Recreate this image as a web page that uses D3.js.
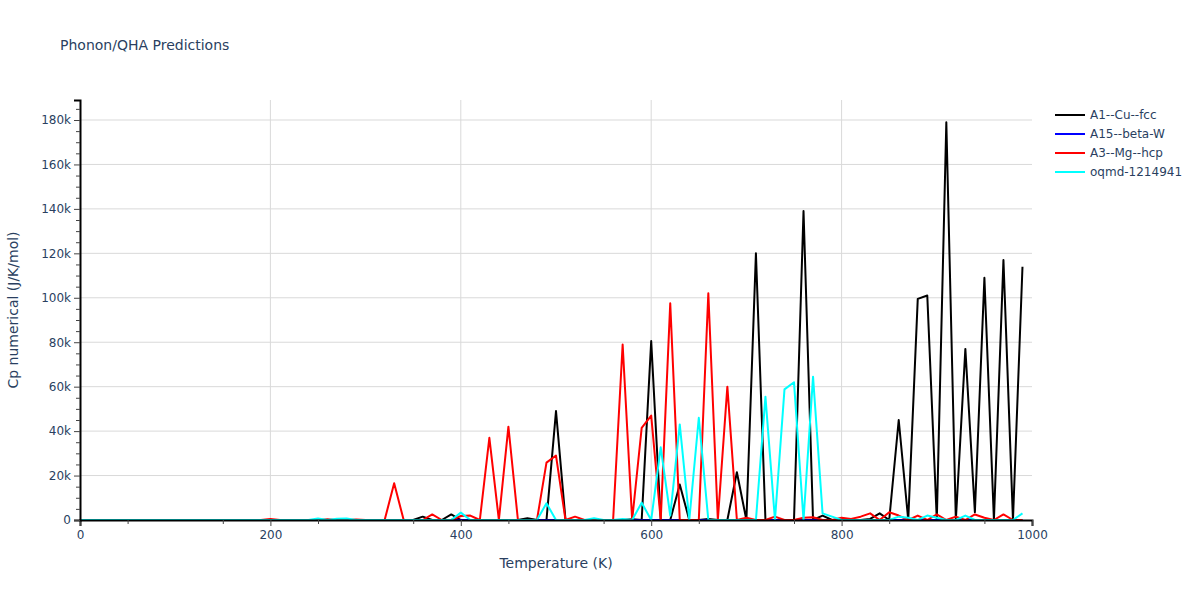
<!DOCTYPE html>
<html>
<head>
<meta charset="utf-8">
<script src="https://cdn.jsdelivr.net/npm/d3@7"></script>
<style>
  body { margin: 0; background: #fff; }
  svg { font-family: "DejaVu Sans", verdana, arial, sans-serif; }
</style>
</head>
<body>
<svg id="chart" width="1200" height="600"></svg>
<script>
// temperatures, 0 .. 990 K step 10
let temps = d3.range(0, 1000, 10);

// Cp numerical (J/K/mol) per temperature
let cuFcc = [
  0, 0, 0, 0, 0, 0, 0, 0, 0, 0,
  0, 0, 0, 0, 0, 0, 0, 0, 0, 0,
  0, 0, 0, 0, 0, 0, 0, 0, 0, 0,
  0, 0, 0, 0, 0, 0, 1500, 0, 0, 2500,
  0, 0, 0, 0, 0, 0, 0, 800, 0, 0,
  49000, 0, 0, 0, 0, 0, 0, 0, 300, 0,
  80500, 0, 0, 16000, 0, 0, 500, 0, 0, 21500,
  0, 120000, 0, 0, 0, 0, 139000, 0, 2000, 0,
  0, 0, 0, 500, 3000, 0, 45000, 0, 99500, 101000,
  0, 179000, 0, 77000, 3500, 109000, 0, 117000, 0, 114000
];

let betaW = temps.map(() => 0);

let mgHcp = [
  0, 0, 0, 0, 0, 0, 0, 0, 0, 0,
  0, 0, 0, 0, 0, 0, 0, 0, 0, 0,
  500, 0, 0, 0, 0, 0, 300, 0, 0, 200,
  0, 0, 0, 16500, 0, 0, 0, 2500, 0, 0,
  1800, 2000, 0, 37000, 0, 42000, 0, 0, 0, 25800,
  29000, 0, 1500, 0, 0, 0, 0, 79000, 0, 41500,
  47000, 0, 97500, 0, 0, 0, 102000, 0, 60000, 0,
  1000, 0, 0, 1500, 0, 0, 1000, 1200, 0, 0,
  1000, 500, 1500, 3000, 0, 3500, 2000, 0, 2000, 0,
  2500, 0, 1500, 0, 2500, 1000, 0, 2500, 0, 0
];

let oqmd = [
  0, 0, 0, 0, 0, 0, 0, 0, 0, 0,
  0, 0, 0, 0, 0, 0, 0, 0, 0, 0,
  0, 0, 0, 0, 0, 700, 0, 600, 700, 0,
  0, 0, 0, 0, 0, 0, 0, 0, 0, 0,
  3300, 0, 0, 0, 0, 0, 0, 0, 0, 7500,
  0, 0, 0, 0, 800, 0, 0, 500, 0, 7800,
  0, 32700, 2000, 43000, 0, 46000, 0, 0, 0, 0,
  0, 0, 55500, 0, 58800, 62000, 0, 64500, 3000, 1500,
  0, 0, 0, 0, 0, 0, 1500, 1000, 0, 2000,
  1000, 0, 0, 2000, 0, 0, 0, 0, 0, 3000
];

let seriesNames = ['A1--Cu--fcc', 'A15--beta-W', 'A3--Mg--hcp', 'oqmd-1214941'];
let seriesColors = ['black', 'blue', 'red', 'cyan'];
let seriesValues = [cuFcc, betaW, mgHcp, oqmd];

let xTicks = [0, 200, 400, 600, 800, 1000];
let yTicks = [0, 20000, 40000, 60000, 80000, 100000, 120000, 140000, 160000, 180000];

let svg = d3.select('#chart');

let paddingL = 80;
let paddingT = 100;
let plotW = 952;
let plotH = 420;

let textColor = '#2a3f5f';

let x = d3.scaleLinear().domain([0, 1000]).range([0, plotW]);
let y = d3.scaleLinear().domain([0, 189000]).range([plotH, 0]);

let visViewport = svg.append('g')
  .attr('transform', `translate(${paddingL},${paddingT})`);

// grid lines
visViewport.append('g')
  .selectAll('line')
  .data(yTicks.slice(1))
  .join('line')
  .attr('x1', 0).attr('x2', plotW)
  .attr('y1', d => y(d)).attr('y2', d => y(d))
  .attr('stroke', '#d9d9d9').attr('stroke-width', 1);

visViewport.append('g')
  .selectAll('line')
  .data(xTicks.slice(1, -1))
  .join('line')
  .attr('x1', d => x(d)).attr('x2', d => x(d))
  .attr('y1', 0).attr('y2', plotH)
  .attr('stroke', '#d9d9d9').attr('stroke-width', 1);

// clip the lines to the plot area
svg.append('defs').append('clipPath').attr('id', 'clip')
  .append('rect').attr('width', plotW).attr('height', plotH + 2).attr('y', -1);

let line = d3.line()
  .x((d, i) => x(temps[i]))
  .y(d => y(d));

visViewport.append('g')
  .attr('clip-path', 'url(#clip)')
  .selectAll('path')
  .data(seriesValues)
  .join('path')
  .attr('fill', 'none')
  .attr('stroke', (d, i) => seriesColors[i])
  .attr('stroke-width', 2)
  .attr('stroke-linejoin', 'round')
  .attr('d', line);

// X axis with minor ticks
let xAxis = d3.axisBottom(x).tickValues(xTicks).tickSize(6).tickPadding(4).tickFormat(d3.format('d'));
let xMinor = d3.axisBottom(x).tickValues(d3.range(50, 1000, 100)).tickSize(4).tickFormat('');

let gx = visViewport.append('g')
  .attr('transform', `translate(0,${plotH})`)
  .call(xAxis);
visViewport.append('g')
  .attr('transform', `translate(0,${plotH})`)
  .call(xMinor)
  .call(g => g.select('.domain').remove());

// Y axis with minor ticks
let yAxis = d3.axisLeft(y).tickValues(yTicks).tickSize(6).tickPadding(3)
  .tickFormat(d => d === 0 ? '0' : (d / 1000) + 'k');
let yMinor = d3.axisLeft(y).tickValues(d3.range(5000, 189000, 5000).filter(v => v % 20000 !== 0))
  .tickSize(4).tickFormat('');

let gy = visViewport.append('g').call(yAxis);
visViewport.append('g').call(yMinor).call(g => g.select('.domain').remove());

[gx, gy].forEach(g => {
  g.select('.domain').attr('stroke', 'black').attr('stroke-width', 2);
  g.selectAll('.tick text').attr('fill', textColor).style('font-size', '12px')
    .style('font-family', '"DejaVu Sans", verdana, sans-serif');
});
visViewport.selectAll('.tick line').attr('stroke', '#444');

// titles
svg.append('text')
  .attr('x', 60).attr('y', 50)
  .attr('fill', textColor).style('font-size', '14px')
  .text('Phonon/QHA Predictions');

svg.append('text')
  .attr('x', paddingL + plotW / 2).attr('y', 568)
  .attr('text-anchor', 'middle')
  .attr('fill', textColor).style('font-size', '14px')
  .text('Temperature (K)');

svg.append('text')
  .attr('transform', `translate(18,${paddingT + plotH / 2}) rotate(-90)`)
  .attr('text-anchor', 'middle')
  .attr('fill', textColor).style('font-size', '14px')
  .text('Cp numerical (J/K/mol)');

// legend
let legend = svg.append('g')
  .attr('transform', 'translate(1055,115)')
  .selectAll('g')
  .data(seriesNames)
  .join('g')
  .attr('transform', (d, i) => `translate(0,${i * 19})`);

legend.append('line')
  .attr('x1', 0).attr('x2', 30)
  .attr('stroke', (d, i) => seriesColors[i])
  .attr('stroke-width', 2);

legend.append('text')
  .attr('x', 35).attr('y', 4)
  .attr('fill', textColor).style('font-size', '12px')
  .text(d => d);
</script>
</body>
</html>
